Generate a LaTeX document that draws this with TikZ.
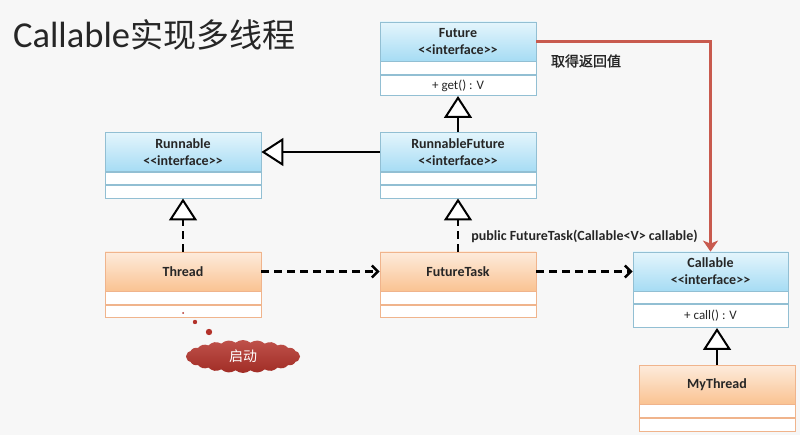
\documentclass[tikz,border=0pt]{standalone}
\usepackage{fontspec}
\setmainfont{Carlito}
\newfontfamily\cjk{Noto Sans CJK SC}
\newfontfamily\cjkb{Noto Sans CJK SC}[FakeBold=1.5]
\usetikzlibrary{arrows.meta,shapes.symbols}
\definecolor{bgc}{HTML}{F7F7F7}
\definecolor{blueTop}{HTML}{E4F5FC}
\definecolor{blueBot}{HTML}{A6DCF4}
\definecolor{blueLine}{HTML}{92BFD3}
\definecolor{orTop}{HTML}{FDEBDC}
\definecolor{orBot}{HTML}{FAC392}
\definecolor{orLine}{HTML}{F0B48C}
\definecolor{redLine}{HTML}{C85A4E}
\definecolor{cloudRed}{HTML}{B3322A}
\definecolor{txt}{HTML}{262626}
\tikzset{
  hdr/.style={draw, minimum width=156pt, minimum height=39pt, inner sep=0pt,
    align=center, text=txt, line width=0.8pt,
    font=\bfseries\fontsize{14}{17}\selectfont},
  bluehdr/.style={hdr, top color=blueTop, bottom color=blueBot, draw=blueLine},
  orhdr/.style={hdr, top color=orTop, bottom color=orBot, draw=orLine},
  sect/.style={draw, fill=white, minimum width=156pt, inner sep=0pt,
    anchor=north, line width=0.8pt, text=txt, font=\fontsize{13}{14}\selectfont},
  bsect/.style={sect, draw=blueLine},
  osect/.style={sect, draw=orLine},
  inherit/.style={line width=2pt, -{Triangle[length=22pt,width=28pt,fill=white]}},
  realize/.style={inherit, dash pattern=on 8pt off 5pt},
  depend/.style={line width=2.5pt, dash pattern=on 8pt off 5pt,
    -{Straight Barb[length=6pt,width=12pt]}},
  retline/.style={line width=3pt, draw=redLine,
    -{Stealth[length=11pt,width=15pt,inset=3pt]}},
  lbl/.style={text=txt, font=\bfseries\fontsize{14}{16}\selectfont},
}
\begin{document}
\begin{tikzpicture}[x=1pt,y=-1pt]
\fill[bgc] (0,0) rectangle (800,435);
\useasboundingbox (0,0) rectangle (800,435);

% title
\node[anchor=west, inner sep=0pt, text=txt] (title) at (13,35)
  {\fontsize{36.5}{40}\selectfont Callable{\cjk\fontsize{33}{40}\selectfont 实现多线程}};

% Future
\node[bluehdr] (fut) at (458,41.5) {Future\\<{}<interface>{}>};
\node[bsect, minimum height=13pt] (futA) at (fut.south) {};
\node[bsect, minimum height=20pt] (futB) at (futA.south) {+ get() : V};

% RunnableFuture
\node[bluehdr] (rf) at (458,152) {RunnableFuture\\<{}<interface>{}>};
\node[bsect, minimum height=12.5pt] (rfA) at (rf.south) {};
\node[bsect, minimum height=12.5pt] (rfB) at (rfA.south) {};

% Runnable
\node[bluehdr] (rn) at (183,152) {Runnable\\<{}<interface>{}>};
\node[bsect, minimum height=12.5pt] (rnA) at (rn.south) {};
\node[bsect, minimum height=12.5pt] (rnB) at (rnA.south) {};

% Thread
\node[orhdr] (th) at (183,271.5) {Thread};
\node[osect, minimum height=12.5pt] (thA) at (th.south) {};
\node[osect, minimum height=12.5pt] (thB) at (thA.south) {};

% FutureTask
\node[orhdr] (ft) at (458,271.5) {FutureTask};
\node[osect, minimum height=12.5pt] (ftA) at (ft.south) {};
\node[osect, minimum height=12.5pt] (ftB) at (ftA.south) {};

% Callable
\node[bluehdr, minimum width=155pt] (ca) at (710.5,271.5) {Callable\\<{}<interface>{}>};
\node[bsect, minimum width=155pt, minimum height=12pt] (caA) at (ca.south) {};
\node[bsect, minimum width=155pt, minimum height=23pt] (caB) at (caA.south) {+ call() : V};

% MyThread
\node[orhdr] (my) at (717,384.5) {MyThread};
\node[osect, minimum height=13pt] (myA) at (my.south) {};
\node[osect, minimum height=13pt] (myB) at (myA.south) {};

% connectors
\draw[inherit] (rf.west) -- (rn.east);
\draw[inherit] (rf.north) -- (futB.south);
\draw[realize] (th.north) -- (rnB.south);
\draw[realize] (ft.north) -- (rfB.south);
\draw[inherit] (my.north) -- (my.north |- caB.south);
\draw[depend] (th.east) -- (ft.west);
\draw[depend] (ft.east) -- (ca.west);
\draw[retline] (fut.east) -| (ca.north);

% labels
\node[lbl] (ctor) at (584.5,236) {public FutureTask(Callable<V> callable)};
\node[text=txt, font=\cjkb\fontsize{14}{16}\selectfont] (ret) at (586,61) {取得返回值};

% cloud
\fill[cloudRed] (183,313) circle (1pt);
\fill[cloudRed] (195,322) circle (2.2pt);
\fill[cloudRed] (209,332) circle (3.2pt);
\node[cloud, cloud puffs=24, cloud puff arc=80, aspect=3.6,
  top color=cloudRed!85!white, bottom color=cloudRed!90!black, draw=none,
  minimum width=114pt, minimum height=33pt, inner sep=0pt, text=white,
  font=\cjk\fontsize{14}{16}\selectfont] (qd) at (243,356.5) {启动};
\end{tikzpicture}
\end{document}
